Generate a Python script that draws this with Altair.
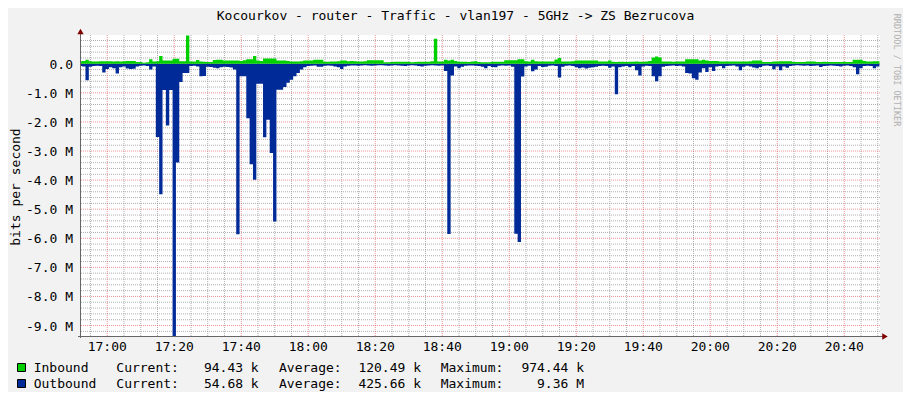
import altair as alt
import pandas as pd

FONT = "DejaVu Sans Mono"

title_text = "Kocourkov - router - Traffic - vlan197 - 5GHz -> ZS Bezrucova"
y_title = "bits per second"
watermark = "RRDTOOL / TOBI OETIKER"

# sample start times, minutes after 16:00 (one sample per minute, starting 16:51:30)
sample_start = 51.5
# Outbound traffic, kbit/s (drawn below zero)
outbound_k = [
    80, 90, 570, 100, 80, 70, 80, 300, 180, 120,
    150, 330, 120, 90, 160, 180, 170, 90, 70, 60,
    80, 200, 90, 2520, 4490, 900, 2120, 900, 9360, 3390,
    630, 320, 320, 80, 70, 90, 430, 420, 100, 110,
    140, 150, 120, 100, 110, 130, 200, 5860, 430, 430,
    1870, 3450, 3990, 690, 690, 2530, 1920, 3070, 5420, 890,
    890, 800, 650, 550, 430, 320, 200, 120, 80, 70,
    60, 100, 100, 70, 60, 70, 90, 120, 180, 90,
    70, 60, 60, 70, 60, 50, 60, 70, 60, 50,
    50, 60, 70, 60, 50, 60, 70, 80, 60, 50,
    60, 80, 90, 70, 60, 50, 60, 70, 60, 250,
    5850, 400, 90, 150, 100, 70, 60, 60, 70, 80,
    100, 150, 80, 110, 120, 70, 60, 70, 60, 100,
    5840, 6130, 440, 90, 70, 260, 200, 80, 110, 100,
    70, 60, 80, 470, 100, 70, 60, 80, 120, 150,
    130, 160, 140, 120, 100, 80, 70, 80, 140, 90,
    1050, 120, 90, 80, 120, 80, 220, 400, 90, 70,
    80, 430, 600, 430, 100, 80, 70, 60, 80, 70,
    90, 320, 330, 500, 550, 300, 150, 280, 120, 250,
    90, 80, 150, 80, 70, 60, 90, 220, 100, 70,
    90, 130, 150, 110, 70, 60, 80, 190, 90, 220,
    90, 140, 80, 60, 50, 60, 70, 60, 80, 70,
    60, 110, 80, 70, 60, 70, 80, 90, 70, 60,
    80, 120, 360, 150, 80, 70, 80, 150, 90, 55,
]
# Inbound traffic, kbit/s (drawn above zero)
inbound_k = [
    90, 100, 140, 90, 80, 80, 85, 90, 90, 85,
    80, 85, 80, 90, 100, 100, 95, 60, 60, 40,
    50, 160, 80, 90, 270, 110, 110, 110, 170, 170,
    90, 90, 970, 80, 80, 130, 80, 70, 60, 60,
    130, 140, 140, 110, 110, 110, 110, 110, 100, 120,
    160, 160, 270, 110, 100, 180, 180, 180, 180, 110,
    110, 110, 100, 80, 80, 80, 90, 110, 110, 110,
    140, 140, 140, 70, 70, 80, 80, 90, 110, 110,
    90, 100, 90, 80, 80, 90, 120, 120, 120, 120,
    120, 50, 50, 60, 70, 70, 70, 70, 70, 50,
    60, 70, 70, 70, 70, 90, 860, 80, 80, 140,
    110, 140, 100, 70, 70, 70, 60, 80, 90, 60,
    50, 50, 50, 70, 70, 70, 70, 120, 120, 120,
    120, 160, 160, 90, 80, 140, 90, 80, 80, 80,
    80, 80, 150, 200, 80, 80, 80, 90, 110, 110,
    110, 110, 110, 110, 110, 80, 80, 80, 110, 70,
    60, 70, 70, 60, 70, 70, 80, 70, 70, 80,
    100, 220, 250, 220, 80, 80, 80, 70, 80, 80,
    80, 160, 160, 160, 160, 110, 140, 110, 100, 100,
    100, 80, 80, 80, 80, 80, 80, 80, 80, 80,
    90, 110, 110, 110, 60, 60, 60, 80, 80, 90,
    90, 90, 90, 60, 60, 60, 60, 80, 80, 80,
    60, 60, 70, 60, 60, 60, 60, 60, 70, 60,
    60, 140, 140, 140, 100, 80, 80, 90, 90, 94,
]

x_tick_values = [60, 80, 100, 120, 140, 160, 180, 200, 220, 240, 260, 280]
x_tick_labels = ["17:00", "17:20", "17:40", "18:00", "18:20", "18:40",
                 "19:00", "19:20", "19:40", "20:00", "20:20", "20:40"]
y_tick_values = [0, -1e6, -2e6, -3e6, -4e6, -5e6, -6e6, -7e6, -8e6, -9e6]
y_tick_labels = ["0.0", "-1.0 M", "-2.0 M", "-3.0 M", "-4.0 M", "-5.0 M",
                 "-6.0 M", "-7.0 M", "-8.0 M", "-9.0 M"]

legend_names = ["Inbound", "Outbound"]
legend_current = ["94.43 k", "54.68 k"]
legend_average = ["120.49 k", "425.66 k"]
legend_maximum = ["974.44 k", "9.36 M"]
series_colors = ["#00CF00", "#002A97"]

X_START = 52 + 10 / 60   # 16:52:10
X_END = 290 + 40 / 60    # 20:50:40
Y_MIN, Y_MAX = -9.36e6, 0.99e6

x_scale = alt.Scale(domain=[X_START, X_END], nice=False, zero=False)
y_scale = alt.Scale(domain=[Y_MIN, Y_MAX], nice=False, zero=False)

n = len(outbound_k)
df = pd.DataFrame({
    "t": [sample_start + i for i in range(n)],
    "inb": [v * 1000 for v in inbound_k],
    "outb": [-v * 1000 for v in outbound_k],
})

# grid positions
x_minor = [m for m in range(55, 291, 5) if m not in x_tick_values]
y_minor = [v * 0.2e6 for v in range(-46, 5) if v % 5 != 0]
y_major = y_tick_values

MINOR = dict(stroke="#8F8F8F", strokeOpacity=0.7, strokeDash=[1, 1], strokeWidth=1)
MAJOR = dict(stroke="#DE4F4F", strokeOpacity=0.6, strokeDash=[1, 1], strokeWidth=1)

layers = []
layers.append(alt.Chart(pd.DataFrame({"v": x_minor})).mark_rule(**MINOR).encode(
    x=alt.X("v:Q", scale=x_scale, axis=None)))
layers.append(alt.Chart(pd.DataFrame({"v": y_minor})).mark_rule(**MINOR).encode(
    y=alt.Y("v:Q", scale=y_scale, axis=None)))
layers.append(alt.Chart(pd.DataFrame({"v": x_tick_values})).mark_rule(**MAJOR).encode(
    x=alt.X("v:Q", scale=x_scale, axis=None)))
layers.append(alt.Chart(pd.DataFrame({"v": y_major})).mark_rule(**MAJOR).encode(
    y=alt.Y("v:Q", scale=y_scale, axis=None)))

# traffic areas
layers.append(alt.Chart(df).mark_area(color=series_colors[1], interpolate="step-after", clip=True).encode(
    x=alt.X("t:Q", scale=x_scale, axis=None),
    y=alt.Y("outb:Q", scale=y_scale, axis=None),
    y2=alt.datum(0)))
layers.append(alt.Chart(df).mark_area(color=series_colors[0], interpolate="step-after", clip=True).encode(
    x=alt.X("t:Q", scale=x_scale, axis=None),
    y=alt.Y("inb:Q", scale=y_scale, axis=None),
    y2=alt.datum(0)))

one = pd.DataFrame({"k": [0]})
AXIS_COLOR = "#666666"
ARROW_COLOR = "#800000"
# axis lines and arrows
layers.append(alt.Chart(one).mark_rule(color=AXIS_COLOR, strokeWidth=1).encode(
    x=alt.value(-3), x2=alt.value(806), y=alt.value(301.5)))
layers.append(alt.Chart(one).mark_rule(color=AXIS_COLOR, strokeWidth=1).encode(
    x=alt.value(-0.5), y=alt.value(-3), y2=alt.value(303)))
layers.append(alt.Chart(one).mark_point(shape="triangle-right", filled=True, size=40,
                                        color=ARROW_COLOR, opacity=1).encode(
    x=alt.value(804), y=alt.value(301.5)))
layers.append(alt.Chart(one).mark_point(shape="triangle-up", filled=True, size=40,
                                        color=ARROW_COLOR, opacity=1).encode(
    x=alt.value(-0.5), y=alt.value(-3.5)))

# tick labels
xt = pd.DataFrame({"v": x_tick_values, "label": x_tick_labels})
layers.append(alt.Chart(xt).mark_text(font=FONT, fontSize=13, align="center", baseline="middle",
                                      color="black").encode(
    x=alt.X("v:Q", scale=x_scale, axis=None), y=alt.value(312), text="label:N"))
yt = pd.DataFrame({"v": y_tick_values,
                   "label": [l if l.endswith("M") else l + "\u00a0\u00a0" for l in y_tick_labels]})
layers.append(alt.Chart(yt).mark_text(font=FONT, fontSize=13, align="right", baseline="middle",
                                      dy=1, color="black").encode(
    x=alt.value(-8), y=alt.Y("v:Q", scale=y_scale, axis=None), text="label:N"))


def label(txt, x, y, align="left", size=13, angle=0, color="black"):
    return alt.Chart(pd.DataFrame({"s": [txt]})).mark_text(
        font=FONT, fontSize=size, align=align, baseline="middle", angle=angle, color=color
    ).encode(x=alt.value(x), y=alt.value(y), text="s:N")


layers.append(label(title_text, 374.5, -19.5, align="center"))
layers.append(label(y_title, -65, 152, align="center", angle=270))
layers.append(label(watermark, 815.5, 35, align="center", size=8.5, angle=90, color="#B0B0B0"))

# legend
rows_y = [333, 349]
for i in range(2):
    y = rows_y[i]
    layers.append(alt.Chart(one).mark_rect(fill=series_colors[i], stroke="black", strokeWidth=1).encode(
        x=alt.value(-63.5), x2=alt.value(-55.5), y=alt.value(y - 4.5), y2=alt.value(y + 3.5)))
    layers.append(label(legend_names[i], -47.3, y))
    layers.append(label("Current:", 35.3, y))
    layers.append(label(legend_current[i], 177.7, y, align="right"))
    layers.append(label("Average:", 198, y))
    layers.append(label(legend_average[i], 340, y, align="right"))
    layers.append(label("Maximum:", 359.7, y))
    layers.append(label(legend_maximum[i], 503, y, align="right"))

chart = alt.layer(*layers).properties(
    width=799,
    height=301,
    padding={"left": 73, "top": 27, "right": 23, "bottom": 56},
    autosize=alt.AutoSizeParams(type="none"),
    background="#F2F2F2",
).configure_view(fill="#FFFFFF", stroke=None)

chart.save("out.html", embed_options={"renderer": "svg", "actions": False})
